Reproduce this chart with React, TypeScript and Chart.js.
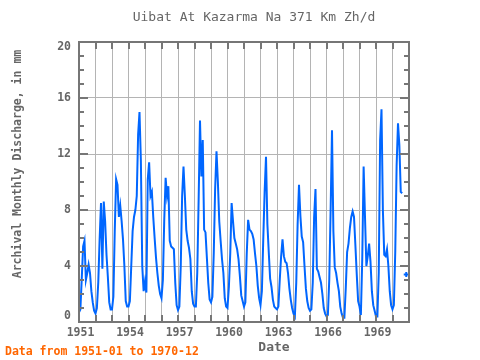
import React, { useEffect, useRef } from "react";
import { Chart, registerables } from "chart.js";

Chart.register(...registerables);

const startYear = 1951;
const endYear = 1971;

const y1951 = [0.7, 0.9, 3.1, 5.4, 5.8, 3.0, 3.5, 4.1, 3.5, 2.2, 1.4, 0.8];
const y1952 = [0.6, 1.0, 2.8, 5.9, 8.5, 3.8, 8.6, 7.2, 4.8, 3.2, 1.4, 0.9];
const y1953 = [0.9, 1.8, 6.5, 10.2, 9.8, 7.5, 8.3, 7.2, 5.9, 4.0, 1.5, 1.1];
const y1954 = [1.1, 1.5, 4.0, 6.5, 7.5, 8.0, 9.0, 13.4, 15.0, 11.5, 4.0, 2.2];
const y1955 = [2.9, 2.1, 10.2, 11.4, 9.0, 9.3, 7.5, 6.0, 4.6, 3.5, 2.6, 2.0];
const y1956 = [1.7, 3.0, 7.3, 10.3, 9.0, 9.7, 5.8, 5.4, 5.3, 5.2, 2.8, 1.2];
const y1957 = [0.85, 1.1, 4.0, 9.0, 11.1, 9.0, 6.6, 5.8, 5.3, 4.5, 2.2, 1.3];
const y1958 = [1.1, 1.1, 3.5, 8.7, 14.4, 10.4, 13.0, 6.6, 6.4, 4.6, 2.8, 1.6];
const y1959 = [1.4, 1.8, 4.9, 9.5, 12.2, 10.0, 7.2, 5.8, 4.5, 3.5, 1.7, 1.1];
const y1960 = [1.0, 2.5, 4.9, 8.5, 7.2, 6.0, 5.6, 5.2, 4.5, 3.3, 1.9, 1.5];
const y1961 = [1.1, 1.4, 4.9, 7.3, 6.6, 6.5, 6.3, 5.9, 4.9, 4.0, 2.6, 1.7];
const y1962 = [1.2, 2.2, 5.9, 9.3, 11.8, 7.0, 5.0, 3.1, 2.5, 1.6, 1.1, 1.0];
const y1963 = [0.9, 1.1, 3.0, 4.7, 5.9, 4.7, 4.3, 4.2, 3.5, 2.4, 1.6, 1.0];
const y1964 = [0.6, 0.4, 2.8, 7.0, 9.8, 7.6, 6.1, 5.7, 4.0, 2.4, 1.5, 1.0];
const y1965 = [0.8, 0.9, 2.8, 7.5, 9.5, 3.8, 3.6, 3.2, 2.8, 2.0, 1.0, 0.6];
const y1966 = [0.4, 0.5, 3.0, 8.0, 13.7, 6.5, 3.9, 3.5, 2.8, 2.2, 1.1, 0.6];
const y1967 = [0.3, 0.3, 2.4, 5.0, 5.6, 6.7, 7.5, 7.9, 7.5, 5.5, 3.4, 1.5];
const y1968 = [1.1, 0.5, 4.5, 11.1, 7.5, 4.0, 4.7, 5.6, 4.3, 2.2, 1.2, 0.8];
const y1969 = [0.4, 0.4, 3.5, 13.0, 15.2, 8.0, 4.8, 4.7, 5.2, 4.0, 2.2, 1.2];
const y1970 = [0.9, 1.2, 5.0, 11.2, 14.2, 12.6, 9.3, 9.2, null, null, 3.4, null];

const monthlyDischarge: (number | null)[] = [
  ...y1951, ...y1952, ...y1953, ...y1954, ...y1955, ...y1956, ...y1957,
  ...y1958, ...y1959, ...y1960, ...y1961, ...y1962, ...y1963, ...y1964,
  ...y1965, ...y1966, ...y1967, ...y1968, ...y1969, ...y1970,
];

const xTickLabels = [1951, 1954, 1957, 1960, 1963, 1966, 1969];
const yTickLabels = [0, 4, 8, 12, 16, 20];

const titleText = "Uibat At Kazarma Na 371 Km Zh/d";
const yTitleText = "Archival Monthly Discharge, in mm";
const xTitleText = "Date";
const footerText = "Data from 1951-01 to 1970-12";

const MONO = '"DejaVu Sans Mono", "Liberation Mono", monospace';
const TEXT = "#666666";
const FRAME = "#767676";
const BLUE = "#0066ff";

const framePlugin = {
  id: "framePlugin",
  afterDraw(chart: any) {
    const { ctx, chartArea: a, scales } = chart;
    const xs = scales.x;
    const ys = scales.y;
    ctx.save();
    ctx.strokeStyle = FRAME;
    ctx.lineWidth = 2;
    ctx.strokeRect(a.left, a.top, a.right - a.left, a.bottom - a.top);
    ctx.beginPath();
    for (let yr = startYear; yr <= endYear; yr++) {
      const px = Math.round(xs.getPixelForValue(yr));
      ctx.moveTo(px, a.top);
      ctx.lineTo(px, a.top + 7);
      ctx.moveTo(px, a.bottom);
      ctx.lineTo(px, a.bottom - 7);
    }
    for (let v = 0; v <= 20; v++) {
      const py = Math.round(ys.getPixelForValue(v));
      const len = v % 4 === 0 ? 9 : 5;
      ctx.moveTo(a.left, py);
      ctx.lineTo(a.left + len, py);
      ctx.moveTo(a.right, py);
      ctx.lineTo(a.right - len, py);
    }
    ctx.stroke();

    ctx.fillStyle = TEXT;
    ctx.font = `bold 11.5px ${MONO}`;
    ctx.textBaseline = "middle";
    ctx.textAlign = "center";
    for (const yr of xTickLabels) {
      ctx.fillText(String(yr), xs.getPixelForValue(yr) + 1.5, a.bottom + 11.5);
    }
    ctx.textAlign = "right";
    for (const v of yTickLabels) {
      let py = ys.getPixelForValue(v);
      py = Math.min(Math.max(py, a.top + 5), a.bottom - 5.5);
      ctx.fillText(String(v), a.left - 8, py);
    }

    ctx.textAlign = "center";
    ctx.font = `13px ${MONO}`;
    ctx.fillText(titleText, 254, 18);
    ctx.font = `bold 13px ${MONO}`;
    ctx.fillText(xTitleText, 274, 347.5);

    ctx.save();
    ctx.translate(18, 164);
    ctx.rotate(-Math.PI / 2);
    ctx.font = `bold 11.5px ${MONO}`;
    ctx.fillText(yTitleText, 0, 0);
    ctx.restore();

    ctx.textAlign = "left";
    ctx.fillStyle = "#ff6600";
    ctx.font = `bold 11.5px ${MONO}`;
    ctx.fillText(footerText, 5, 352);
    ctx.restore();
  },
};

export default function App() {
  const ref = useRef<HTMLCanvasElement | null>(null);

  useEffect(() => {
    document.body.style.margin = "0";
    const canvas = ref.current;
    if (!canvas) return;
    const points = monthlyDischarge.map((v, i) => ({ x: startYear + i / 12, y: v }));
    const isolated = (i: number) =>
      monthlyDischarge[i] != null &&
      monthlyDischarge[i - 1] == null &&
      monthlyDischarge[i + 1] == null;
    const chart = new Chart(canvas, {
      type: "line",
      data: {
        datasets: [
          {
            data: points as any,
            borderColor: BLUE,
            backgroundColor: BLUE,
            borderWidth: 2,
            tension: 0,
            spanGaps: false,
            pointStyle: "cross",
            pointRadius: (c: any) => (isolated(c.dataIndex) ? 2.5 : 0),
            pointBorderWidth: 2,
            pointBorderColor: BLUE,
            pointHoverRadius: 0,
          },
        ],
      },
      options: {
        animation: false,
        responsive: false,
        events: [],
        layout: { padding: { left: 79, right: 71, top: 42, bottom: 38 } },
        plugins: { legend: { display: false }, title: { display: false }, tooltip: { enabled: false } },
        scales: {
          x: {
            type: "linear",
            min: startYear,
            max: endYear,
            afterBuildTicks: (s: any) => {
              const t = [];
              for (let yr = startYear; yr <= endYear; yr++) t.push({ value: yr });
              s.ticks = t;
            },
            ticks: { display: false },
            grid: { color: "#b4b4b4", lineWidth: 1, drawTicks: false },
            border: { display: false },
          },
          y: {
            type: "linear",
            min: 0,
            max: 20,
            ticks: { display: false, stepSize: 4 },
            grid: { color: "#b4b4b4", lineWidth: 1, drawTicks: false },
            border: { display: false },
          },
        },
      },
      plugins: [framePlugin],
    });
    return () => chart.destroy();
  }, []);

  return <canvas ref={ref} width={480} height={360} style={{ display: "block" }} />;
}
